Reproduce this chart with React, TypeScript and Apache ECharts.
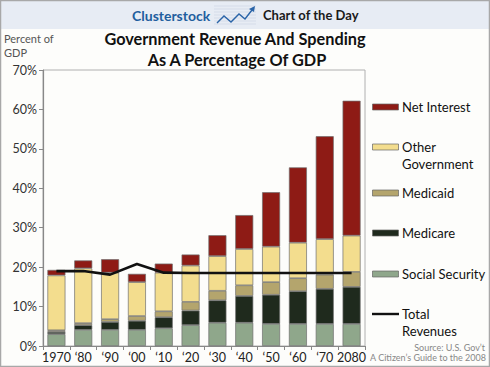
import React, { useEffect, useRef } from "react";
import * as echarts from "echarts";

const categories = ["1970", "‘80", "‘90", "‘00", "‘10", "‘20", "‘30", "‘40", "‘50", "‘60", "‘70", "2080"];
const socialSecurity = [3.0, 4.1, 4.1, 4.1, 4.5, 5.3, 5.9, 5.9, 5.6, 5.6, 5.6, 5.6];
const medicare = [0.6, 1.2, 2.0, 2.3, 2.8, 3.7, 5.7, 6.8, 7.4, 8.3, 8.9, 9.4];
const medicaid = [0.4, 0.5, 0.7, 1.2, 1.5, 2.2, 2.4, 2.7, 3.2, 3.3, 3.6, 3.8];
const otherGovernment = [13.9, 13.9, 11.8, 8.6, 9.8, 9.2, 8.8, 9.2, 9.0, 9.0, 9.0, 9.2];
const netInterest = [1.4, 2.0, 3.4, 2.1, 2.3, 2.8, 5.3, 8.6, 13.8, 19.1, 26.1, 34.2];
const totalRevenues = [19.0, 19.0, 18.1, 20.8, 18.6, 18.5, 18.5, 18.5, 18.5, 18.5, 18.5, 18.5];
const yTicks = [0, 10, 20, 30, 40, 50, 60, 70];

const C_NI = "#8e1b15";
const C_OG = "#f3dd8e";
const C_MA = "#b4a56d";
const C_MC = "#1f2a1d";
const C_SS = "#8fa78b";

const FONT = "Lato, 'Open Sans', sans-serif";

export default function App() {
  const ref = useRef<HTMLDivElement>(null);
  useEffect(() => {
    if (!ref.current) return;
    const chart = echarts.init(ref.current, null, { renderer: "svg" });
    const barStyle = (c: string) => ({ color: c, borderColor: "#6f6f6f", borderWidth: 0.7 });
    const bar = (name: string, data: number[], c: string) => ({
      name,
      type: "bar",
      stack: "spend",
      data,
      barWidth: 18,
      itemStyle: barStyle(c),
      emphasis: { disabled: true },
    });
    const legendRect = (y: number, c: string) => ({
      type: "rect",
      shape: { x: 372.5, y: y - 3, width: 26, height: 6 },
      style: { fill: c, stroke: "#666", lineWidth: 0.7 },
    });
    const legendText = (y: number, t: string) => ({
      type: "text",
      x: 402,
      y,
      style: { text: t, fill: "#111", font: `13px ${FONT}`, textVerticalAlign: "middle" },
    });
    const stripes: any[] = [];
    for (let i = 0; i < 7; i++) {
      stripes.push({
        type: "line",
        shape: { x1: 214, y1: 6 + i * 3, x2: 256, y2: 6 + i * 3 },
        style: { stroke: "#c9d3e2", lineWidth: 0.6 },
      });
    }
    chart.setOption({
      animation: false,
      backgroundColor: "#fdfdfb",
      grid: { left: 43, right: 125, top: 70, bottom: 21, show: true, borderColor: "#b0b0b0", borderWidth: 1 },
      xAxis: {
        type: "category",
        data: categories,
        axisLine: { lineStyle: { color: "#888", width: 1.2 } },
        axisTick: { show: true, length: 4, lineStyle: { color: "#888" } },
        axisLabel: { interval: 0, color: "#222", fontSize: 12.5, fontFamily: FONT, margin: 5 },
      },
      yAxis: {
        type: "value",
        min: yTicks[0],
        max: yTicks[yTicks.length - 1],
        interval: 10,
        splitLine: { show: false },
        axisLine: { show: true, lineStyle: { color: "#888", width: 1.2 } },
        axisTick: { show: true, length: 4, lineStyle: { color: "#888" } },
        axisLabel: { color: "#333", fontSize: 12.5, fontFamily: FONT, margin: 6, formatter: "{value}%" },
      },
      series: [
        bar("Social Security", socialSecurity, C_SS),
        bar("Medicare", medicare, C_MC),
        bar("Medicaid", medicaid, C_MA),
        bar("Other Government", otherGovernment, C_OG),
        bar("Net Interest", netInterest, C_NI),
        {
          name: "Total Revenues",
          type: "line",
          data: totalRevenues,
          symbol: "none",
          lineStyle: { color: "#111", width: 2.6 },
          z: 5,
        },
      ],
      graphic: [
        { type: "rect", shape: { x: 0, y: 0, width: 490, height: 29 }, style: { fill: "#e7ecf4" }, z: -1 },
        { type: "rect", shape: { x: 0.5, y: 0.5, width: 489, height: 366 }, style: { fill: "none", stroke: "#a8a8a8", lineWidth: 1.5 } },
        ...stripes,
        {
          type: "polyline",
          shape: { points: [[217, 23], [224, 16], [231, 22], [239, 14], [245, 19], [252, 10]] },
          style: { stroke: "#2a64a8", lineWidth: 1.4, fill: "none" },
        },
        {
          type: "polygon",
          shape: { points: [[255, 6], [249, 9], [254, 12]] },
          style: { fill: "#2a64a8" },
        },
        {
          type: "text", x: 132, y: 15,
          style: { text: "Clusterstock", fill: "#1f5e9e", font: `bold 14px ${FONT}`, textVerticalAlign: "middle" },
        },
        {
          type: "text", x: 263, y: 15,
          style: { text: "Chart of the Day", fill: "#1a1a1a", font: `bold 13px ${FONT}`, textVerticalAlign: "middle" },
        },
        {
          type: "text", x: 4, y: 38,
          style: { text: "Percent of", fill: "#555", font: `11px ${FONT}`, textVerticalAlign: "middle" },
        },
        {
          type: "text", x: 4, y: 52,
          style: { text: "GDP", fill: "#555", font: `11px ${FONT}`, textVerticalAlign: "middle" },
        },
        {
          type: "text", x: 235, y: 38,
          style: { text: "Government Revenue And Spending", fill: "#111", font: `bold 16.3px ${FONT}`, textAlign: "center", textVerticalAlign: "middle" },
        },
        {
          type: "text", x: 237, y: 59,
          style: { text: "As A Percentage Of GDP", fill: "#111", font: `bold 16.3px ${FONT}`, textAlign: "center", textVerticalAlign: "middle" },
        },
        legendRect(107, C_NI),
        legendText(107, "Net Interest"),
        legendRect(147, C_OG),
        legendText(147, "Other"),
        legendText(164, "Government"),
        legendRect(193, C_MA),
        legendText(193, "Medicaid"),
        legendRect(233, C_MC),
        legendText(233, "Medicare"),
        legendRect(274, C_SS),
        legendText(274, "Social Security"),
        { type: "line", shape: { x1: 372, y1: 314, x2: 399, y2: 314 }, style: { stroke: "#111", lineWidth: 2.4 } },
        legendText(314, "Total"),
        legendText(331, "Revenues"),
        {
          type: "text", x: 485, y: 347,
          style: { text: "Source: U.S. Gov’t", fill: "#888", font: `9px ${FONT}`, textAlign: "right", textVerticalAlign: "middle" },
        },
        {
          type: "text", x: 486, y: 357,
          style: { text: "A Citizen’s Guide to the 2008", fill: "#888", font: `9px ${FONT}`, textAlign: "right", textVerticalAlign: "middle" },
        },
      ],
    });
    return () => chart.dispose();
  }, []);
  return <div ref={ref} style={{ position: "absolute", left: 0, top: 0, width: 490, height: 367 }} />;
}
